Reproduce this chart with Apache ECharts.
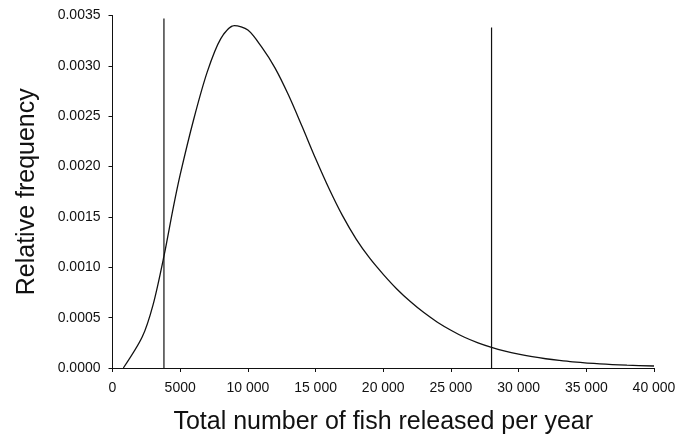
<!DOCTYPE html>
<html>
<head>
<meta charset="utf-8">
<script src="https://cdn.jsdelivr.net/npm/echarts@6/dist/echarts.min.js"></script>
<style>
  html, body { margin: 0; padding: 0; background: #fff; }
  #chart { width: 691px; height: 436px; }
</style>
</head>
<body>
<div id="chart"></div>
<script>
// fish released per year (x) and relative frequency (y)
const fishX = [800, 2200, 3000, 3800, 4500, 5000, 6000, 7000, 8000, 9000, 10000, 11000, 12000,
  13000, 14000, 15000, 16000, 17000, 18000, 19000, 20000, 21000, 22000, 23000, 24000, 25000,
  26000, 27000, 28000, 29000, 30000, 31000, 32000, 33000, 34000, 36000, 38000, 40000];
const freqY = [0, 0.00031, 0.00063, 0.00111, 0.0016, 0.00192, 0.00247, 0.00294, 0.00327, 0.0034,
  0.003355, 0.00319, 0.00298, 0.00271, 0.0024, 0.00208, 0.00178, 0.00151, 0.00128, 0.00109,
  0.00093, 0.000785, 0.00066, 0.00055, 0.000455, 0.000375, 0.000305, 0.00025, 0.000205, 0.000168,
  0.000138, 0.000113, 0.000092, 0.000075, 0.000061, 0.000041, 0.000028, 0.00002];

// the two vertical limit lines
const lowLine = [[3800, 0], [3800, 0.00347]];
const highLine = [[28000, 0], [28000, 0.00338]];

const xTicks = { min: 0, max: 40000, interval: 5000 };
const yTicks = { min: 0, max: 0.0035, interval: 0.0005 };

const chart = echarts.init(document.getElementById("chart"));
const font = "Liberation Sans, Arial, sans-serif";

chart.setOption({
  animation: false,
  grid: { left: 112.5, right: 37, top: 15.5, bottom: 68, outerBoundsMode: "none" },
  xAxis: {
    type: "value",
    min: xTicks.min,
    max: xTicks.max,
    interval: xTicks.interval,
    name: "Total number of fish released per year",
    nameLocation: "middle",
    nameGap: 42,
    nameTextStyle: { fontFamily: font, fontSize: 25, color: "#111" },
    axisLine: { lineStyle: { color: "#111", width: 1 } },
    axisTick: { length: 4, lineStyle: { color: "#111" } },
    axisLabel: {
      fontFamily: font, fontSize: 14, color: "#111", margin: 13,
      formatter: function (v) {
        return v >= 10000 ? Math.floor(v / 1000) + " " + String(v % 1000).padStart(3, "0") : String(v);
      }
    },
    splitLine: { show: false }
  },
  yAxis: {
    type: "value",
    min: yTicks.min,
    max: yTicks.max,
    interval: yTicks.interval,
    name: "Relative frequency",
    nameLocation: "middle",
    nameGap: 73,
    nameTextStyle: { fontFamily: font, fontSize: 25, color: "#111" },
    axisLine: { show: true, lineStyle: { color: "#111", width: 1 } },
    axisTick: { show: true, length: 4, lineStyle: { color: "#111" } },
    axisLabel: {
      fontFamily: font, fontSize: 14, color: "#111", margin: 12,
      formatter: function (v) { return v.toFixed(4); }
    },
    splitLine: { show: false }
  },
  series: [
    {
      type: "line",
      data: fishX.map((x, i) => [x, freqY[i]]),
      smooth: 0.3,
      showSymbol: false,
      lineStyle: { color: "#111", width: 1.3 }
    },
    {
      type: "line",
      data: lowLine,
      showSymbol: false,
      lineStyle: { color: "#111", width: 1.2 }
    },
    {
      type: "line",
      data: highLine,
      showSymbol: false,
      lineStyle: { color: "#111", width: 1.2 }
    }
  ]
});
</script>
</body>
</html>
